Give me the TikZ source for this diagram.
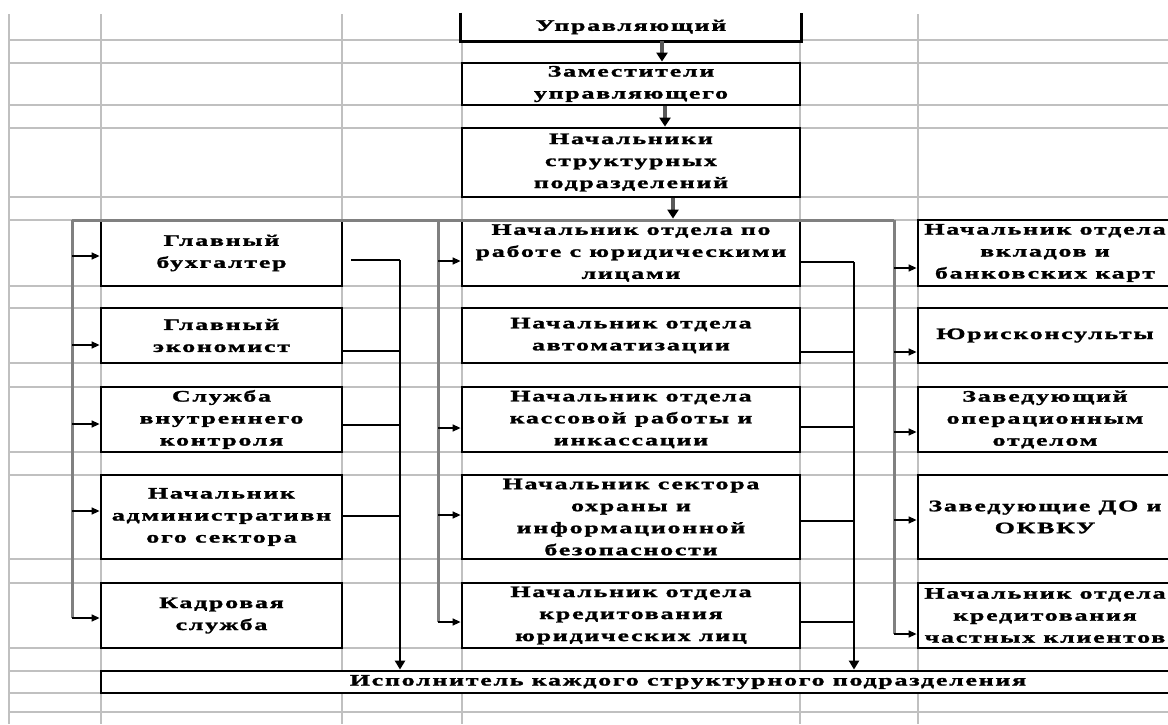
\documentclass[tikz,border=0pt]{standalone}
\usepackage{fontspec}
\newfontfamily\cellfont[FakeStretch=1.62,LetterSpace=11,BoldFeatures={FakeBold=1.6}]{Liberation Serif}
\newcommand\bxfont{\cellfont\bfseries\fontsize{16}{22}\selectfont}
\usetikzlibrary{arrows.meta}
\definecolor{gridgray}{HTML}{C0C0C0}
\definecolor{busgray}{HTML}{808080}
\begin{document}
\begin{tikzpicture}[x=1pt,y=-1pt,
  grid/.style={draw=gridgray, line width=1.6pt},
  box/.style={rectangle, draw=black, line width=2.8pt, fill=white, inner sep=0pt, align=center, font=\bxfont},
  lcol/.style={box, minimum width=241pt},
  mcol/.style={box, minimum width=338pt},
  rcol/.style={box, minimum width=254pt},
  bus/.style={draw=busgray, line width=3pt},
  barr/.style={draw=black, line width=1.4pt, -{Triangle[length=8pt,width=7pt]}},
  outl/.style={draw=black, line width=1.6pt},
  coll/.style={draw=black, line width=2.6pt, -{Triangle[length=9pt,width=10pt]}},
  downarr/.style={draw=black!65, line width=3.2pt, -{Triangle[length=9pt,width=11pt,color=black]}}
]
\useasboundingbox (0,0) rectangle (1168,724);
\clip (0,0) rectangle (1168,724);
% spreadsheet grid
\foreach \gx in {9,101,342,462,800,918} \draw[grid] (\gx,14) -- (\gx,724);
\foreach \gy in {40,63,105,128,197,220,286,308,363,387,452,475,559,583,648,671,693,712} \draw[grid] (9,\gy) -- (1168,\gy);

% top chain
\node[box, draw=none, minimum width=338pt, minimum height=26pt] (T1) at (631,27) {Управляющий};
\draw[line width=2.8pt] (T1.north west) |- (T1.south east) -- (T1.north east);
\node[mcol, minimum height=42pt] (T2) at (631,84) {Заместители\\управляющего};
\node[mcol, minimum height=69pt] (T3) at (631,162.5) {Начальники\\структурных\\подразделений};

% left column
\node[lcol, minimum height=66pt] (L1) at (221.5,253) {Главный\\бухгалтер};
\node[lcol, minimum height=55pt] (L2) at (221.5,335.5) {Главный\\экономист};
\node[lcol, minimum height=65pt] (L3) at (221.5,419.5) {Служба\\внутреннего\\контроля};
\node[lcol, minimum height=84pt] (L4) at (221.5,517) {Начальник\\административн\\ого сектора};
\node[lcol, minimum height=65pt] (L5) at (221.5,615.5) {Кадровая\\служба};

% middle column
\node[mcol, minimum height=66pt] (M1) at (631,253) {Начальник отдела по\\работе с юридическими\\лицами};
\node[mcol, minimum height=55pt] (M2) at (631,335.5) {Начальник отдела\\автоматизации};
\node[mcol, minimum height=65pt] (M3) at (631,419.5) {Начальник отдела\\кассовой работы и\\инкассации};
\node[mcol, minimum height=84pt] (M4) at (631,517) {Начальник сектора\\охраны и\\информационной\\безопасности};
\node[mcol, minimum height=65pt] (M5) at (631,615.5) {Начальник отдела\\кредитования\\юридических лиц};

% right column
\node[rcol, minimum height=66pt] (R1) at (1045,253) {Начальник отдела\\вкладов и\\банковских карт};
\node[rcol, minimum height=55pt] (R2) at (1045,335.5) {Юрисконсульты};
\node[rcol, minimum height=65pt] (R3) at (1045,419.5) {Заведующий\\операционным\\отделом};
\node[rcol, minimum height=84pt] (R4) at (1045,517) {Заведующие ДО и\\ОКВКУ};
\node[rcol, minimum height=65pt] (R5) at (1045,615.5) {Начальник отдела\\кредитования\\частных клиентов};

% bottom
\node[box, minimum width=1174pt, minimum height=22pt] (B) at (688,682) {Исполнитель каждого структурного подразделения};

% top arrows
\draw[downarr] ([xshift=31pt]T1.south) -- ([xshift=31pt]T2.north);
\draw[downarr] ([xshift=34pt]T2.south) -- ([xshift=34pt]T3.north);
\draw[downarr] ([xshift=42pt]T3.south) -- ([xshift=42pt]M1.north);

% bus coordinates
\coordinate (lb) at (72,220);
\coordinate (mb) at (438,220);
\coordinate (rb) at (894,220);
\coordinate (L1in) at ([yshift=-3pt]L1.west);
\coordinate (L2in) at ([yshift=-9.5pt]L2.west);
\coordinate (L3in) at ([yshift=-4.5pt]L3.west);
\coordinate (L4in) at ([yshift=6pt]L4.west);
\coordinate (L5in) at ([yshift=-2.5pt]L5.west);
\coordinate (M1in) at ([yshift=-8pt]M1.west);
\coordinate (M3in) at ([yshift=-8.5pt]M3.west);
\coordinate (M4in) at ([yshift=2pt]M4.west);
\coordinate (M5in) at ([yshift=-6.5pt]M5.west);
\coordinate (R1in) at ([yshift=-15pt]R1.west);
\coordinate (R2in) at ([yshift=-16.5pt]R2.west);
\coordinate (R3in) at ([yshift=-12.5pt]R3.west);
\coordinate (R4in) at ([yshift=-3pt]R4.west);
\coordinate (R5in) at ([yshift=-18.5pt]R5.west);

% bus lines
\draw[bus] (lb) -- (rb);
\draw[bus] (lb) -- (lb |- L5in);
\draw[bus] (mb) -- (mb |- M5in);
\draw[bus] (rb) -- (rb |- R5in);

% bus arrows into boxes
\foreach \t in {L1in,L2in,L3in,L4in,L5in} \draw[barr] (lb |- \t) -- (\t);
\foreach \t in {M1in,M3in,M4in,M5in} \draw[barr] (mb |- \t) -- (\t);
\foreach \t in {R1in,R2in,R3in,R4in,R5in} \draw[barr] (rb |- \t) -- (\t);

% output collectors
\coordinate (L1out) at ([yshift=-7pt,xshift=8pt]L1.east);
\coordinate (L2out) at ([yshift=-15.5pt]L2.east);
\coordinate (L3out) at ([yshift=-5.5pt]L3.east);
\coordinate (L4out) at ([yshift=1pt]L4.east);
\coordinate (M1out) at ([yshift=-9pt]M1.east);
\coordinate (M2out) at ([yshift=-16.5pt]M2.east);
\coordinate (M3out) at ([yshift=-7.5pt]M3.east);
\coordinate (M4out) at ([yshift=-4pt]M4.east);
\coordinate (M5out) at ([yshift=-6.5pt]M5.east);
\coordinate (lc) at (400,260);
\coordinate (mc) at (854,262);
\foreach \s in {L1out,L2out,L3out,L4out} \draw[outl] (\s) -- (lc |- \s);
\foreach \s in {M1out,M2out,M3out,M4out,M5out} \draw[outl] (\s) -- (mc |- \s);
\draw[coll] (lc) -- (lc |- B.north);
\draw[coll] (mc) -- (mc |- B.north);
\end{tikzpicture}
\end{document}
